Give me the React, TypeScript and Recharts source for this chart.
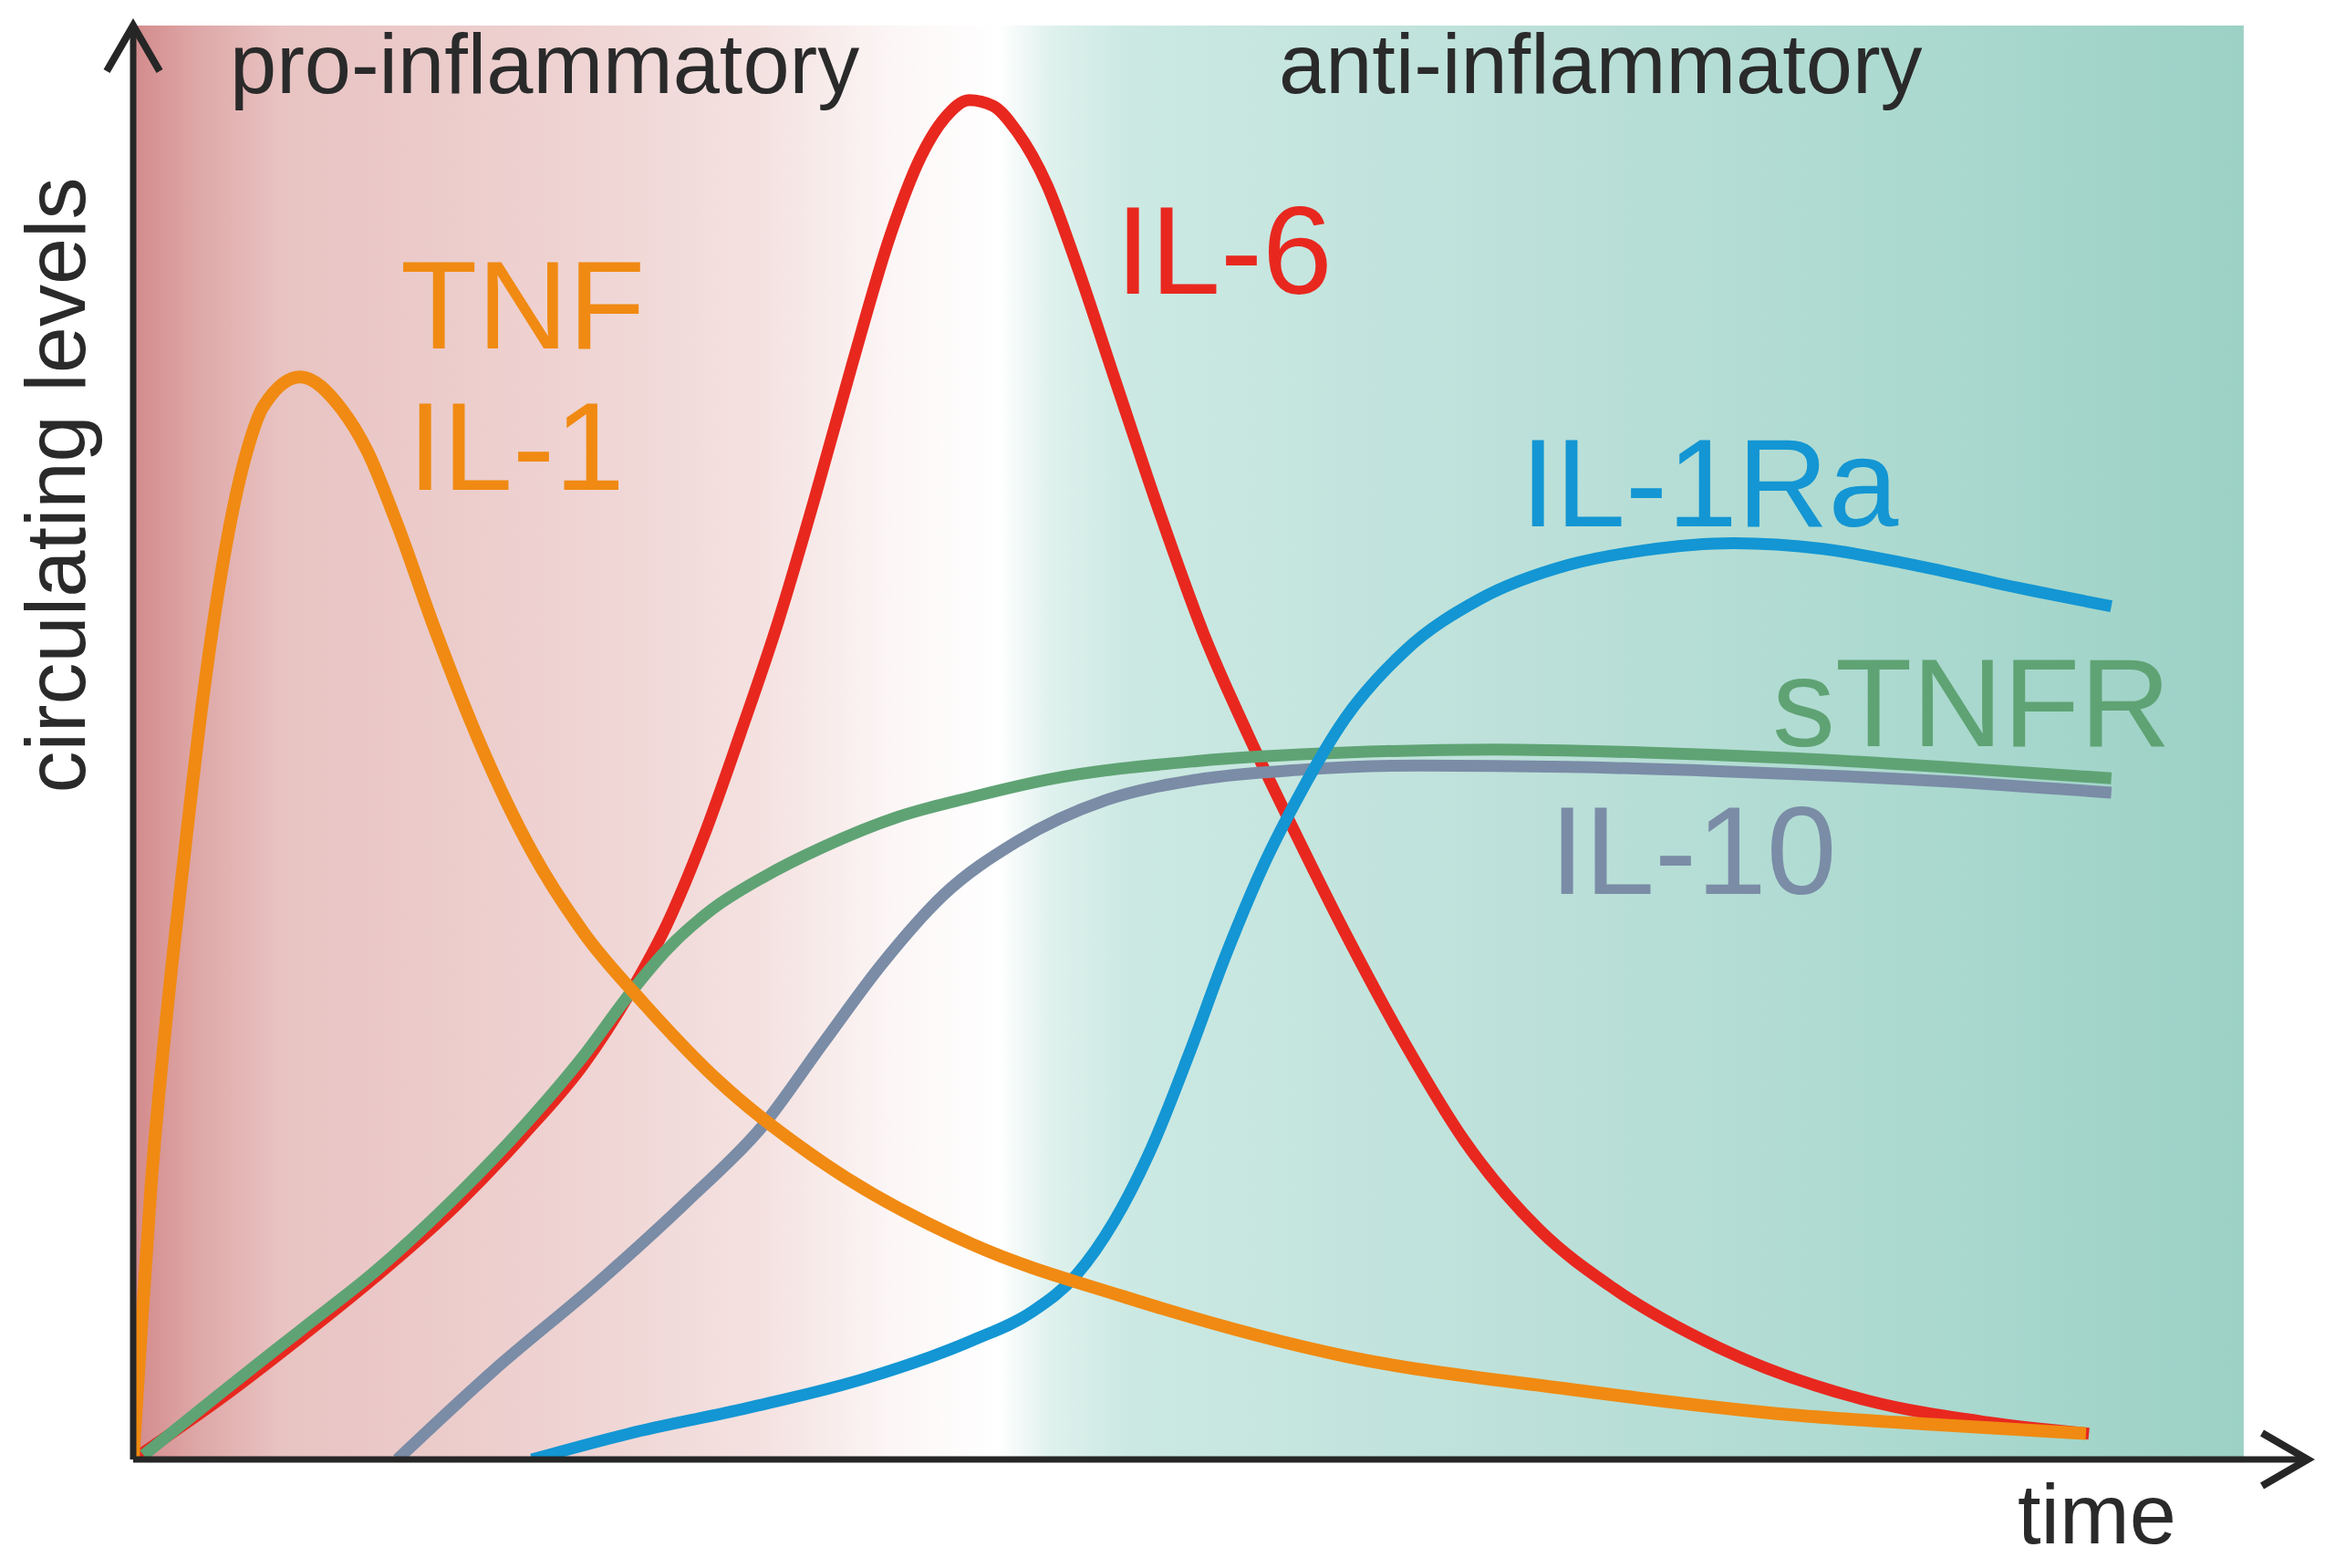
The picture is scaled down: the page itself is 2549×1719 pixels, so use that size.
import { ComposedChart, Line, XAxis, YAxis, ReferenceArea } from "recharts";

// time axis runs 0..102 (arrow tip), levels 0..100 (top of shaded panel)
const tnfIl1 = [
  { t: 0, v: 0 }, { t: 0.35, v: 8.3 }, { t: 0.84, v: 19.1 }, { t: 1.54, v: 30.5 },
  { t: 2.38, v: 41.9 }, { t: 3.29, v: 53.3 }, { t: 4.34, v: 63.6 }, { t: 5.39, v: 70.6 },
  { t: 6.09, v: 73.4 }, { t: 7.84, v: 75.5 }, { t: 9.8, v: 73.2 },
  { t: 10.99, v: 70.3 }, { t: 12.39, v: 65.2 }, { t: 14.15, v: 57.9 },
  { t: 16.25, v: 50.0 }, { t: 18.7, v: 42.4 }, { t: 21.15, v: 36.7 }, { t: 23.95, v: 31.8 },
  { t: 27.45, v: 26.4 }, { t: 32.35, v: 20.7 }, { t: 39.36, v: 15.0 }, { t: 46.36, v: 11.4 },
  { t: 56.86, v: 7.2 }, { t: 67.37, v: 4.9 }, { t: 77.87, v: 3.1 }, { t: 84.87, v: 2.4 },
  { t: 91.6, v: 1.8 },
];

const il6 = [
  { t: 0, v: 0 }, { t: 4.34, v: 4.5 }, { t: 7.84, v: 8.5 }, { t: 11.34, v: 12.7 },
  { t: 14.85, v: 17.3 }, { t: 18.35, v: 22.7 }, { t: 21.15, v: 27.6 }, { t: 23.25, v: 32.4 },
  { t: 25.0, v: 37.2 }, { t: 26.75, v: 43.4 }, { t: 28.5, v: 50.7 }, { t: 30.25, v: 58.4 },
  { t: 32.0, v: 67.2 }, { t: 33.75, v: 76.5 }, { t: 35.5, v: 85.3 }, { t: 36.9, v: 90.7 },
  { t: 38.1, v: 93.6 }, { t: 39.22, v: 94.8 }, { t: 40.34, v: 94.4 }, { t: 41.46, v: 92.6 },
  { t: 42.86, v: 88.9 }, { t: 44.26, v: 83.3 }, { t: 46.01, v: 75.5 }, { t: 48.11, v: 66.2 },
  { t: 50.21, v: 57.6 }, { t: 52.31, v: 50.5 }, { t: 54.41, v: 44.0 }, { t: 56.86, v: 36.7 },
  { t: 59.66, v: 29.0 }, { t: 62.46, v: 22.2 }, { t: 65.97, v: 16.0 }, { t: 69.47, v: 11.9 },
  { t: 74.37, v: 7.8 }, { t: 81.37, v: 4.1 }, { t: 86.97, v: 2.6 }, { t: 91.74, v: 1.8 },
];

const stnfr = [
  { t: 0.49, v: 0.3 }, { t: 4.34, v: 4.9 }, { t: 7.84, v: 9.0 }, { t: 11.34, v: 13.1 },
  { t: 14.85, v: 17.9 }, { t: 18.35, v: 23.3 }, { t: 21.15, v: 28.2 }, { t: 23.25, v: 32.4 },
  { t: 25.0, v: 35.5 }, { t: 27.1, v: 38.3 }, { t: 29.55, v: 40.6 }, { t: 32.35, v: 42.7 },
  { t: 35.85, v: 44.8 }, { t: 39.36, v: 46.2 }, { t: 42.86, v: 47.4 }, { t: 49.86, v: 48.7 },
  { t: 56.86, v: 49.3 }, { t: 63.87, v: 49.5 }, { t: 70.87, v: 49.3 }, { t: 77.87, v: 48.9 },
  { t: 84.87, v: 48.3 }, { t: 92.79, v: 47.5 },
];

const il10 = [
  { t: 12.39, v: 0 }, { t: 16.9, v: 6.2 }, { t: 21.85, v: 12.4 }, { t: 26.05, v: 18.1 },
  { t: 29.55, v: 23.3 }, { t: 32.35, v: 29.0 }, { t: 35.15, v: 34.6 }, { t: 37.96, v: 39.3 },
  { t: 41.46, v: 43.1 }, { t: 45.66, v: 46.0 }, { t: 49.86, v: 47.4 }, { t: 54.76, v: 48.1 },
  { t: 60.36, v: 48.4 }, { t: 67.37, v: 48.3 }, { t: 74.37, v: 48.0 }, { t: 84.87, v: 47.3 },
  { t: 92.79, v: 46.5 },
];

const il1ra = [
  { t: 18.7, v: 0 }, { t: 23.25, v: 1.8 }, { t: 28.85, v: 3.6 }, { t: 34.45, v: 5.7 },
  { t: 39.36, v: 8.3 }, { t: 42.16, v: 10.3 }, { t: 44.26, v: 12.9 }, { t: 46.01, v: 16.6 },
  { t: 47.76, v: 21.7 }, { t: 49.51, v: 28.2 }, { t: 51.26, v: 35.2 }, { t: 53.01, v: 41.4 },
  { t: 54.76, v: 46.5 }, { t: 56.86, v: 51.7 }, { t: 59.66, v: 56.4 }, { t: 63.17, v: 60.0 },
  { t: 67.37, v: 62.4 }, { t: 70.87, v: 63.4 }, { t: 75.07, v: 63.9 }, { t: 79.27, v: 63.5 },
  { t: 83.47, v: 62.4 }, { t: 88.38, v: 60.8 }, { t: 92.79, v: 59.5 },
];

const phaseLabels = ["pro-inflammatory", "anti-inflammatory"];
const axisLabels = { y: "circulating levels", x: "time" };

const FONT = "'Liberation Sans', Arial, Helvetica, sans-serif";
const AXIS = "#262626";

const C = {
  tnf: "#f08a12",
  il6: "#e8281f",
  stnfr: "#5fa374",
  il10: "#7a8ca6",
  il1ra: "#1396d3",
};

// label layout, in page pixels
const seriesLabels = [
  { text: "TNF", x: 439, y: 382, color: C.tnf },
  { text: "IL-1", x: 447, y: 537, color: C.tnf },
  { text: "IL-6", x: 1223, y: 322, color: C.il6 },
  { text: "IL-1Ra", x: 1667, y: 577, color: C.il1ra },
  { text: "sTNFR", x: 1943, y: 818, color: C.stnfr },
  { text: "IL-10", x: 1699, y: 980, color: C.il10 },
];

const W = 2549;
const H = 1719;

export default function App() {
  const lineProps = {
    dataKey: "v",
    type: "monotone" as const,
    dot: false,
    activeDot: false,
    strokeWidth: 13,
    isAnimationActive: false,
  };

  return (
    <div style={{ position: "fixed", left: 0, top: 0, width: W, height: H, background: "#fff" }}>
      <ComposedChart width={W} height={H} margin={{ top: 28, right: 19, bottom: 118, left: 145 }}>
        <defs>
          <linearGradient id="bg" x1="0" y1="0" x2="1" y2="0">
            <stop offset="0%" stopColor="#d38a8b" />
            <stop offset="3%" stopColor="#dea7a7" />
            <stop offset="7%" stopColor="#e8c3c2" />
            <stop offset="20%" stopColor="#eed2d1" />
            <stop offset="30%" stopColor="#f4e2e1" />
            <stop offset="36%" stopColor="#fcf6f6" />
            <stop offset="41%" stopColor="#ffffff" />
            <stop offset="43.5%" stopColor="#dff1ed" />
            <stop offset="47%" stopColor="#cce9e3" />
            <stop offset="65%" stopColor="#bde1da" />
            <stop offset="85%" stopColor="#abd9cf" />
            <stop offset="100%" stopColor="#9cd1c5" />
          </linearGradient>
          <marker id="arrowX" markerUnits="userSpaceOnUse" markerWidth="90" markerHeight="90"
            refX="62" refY="45" orient="0">
            <path d="M 12 16 L 62 45 L 12 74" fill="none" stroke={AXIS} strokeWidth="8" />
          </marker>
          <marker id="arrowY" markerUnits="userSpaceOnUse" markerWidth="90" markerHeight="90"
            refX="45" refY="12" orient="0">
            <path d="M 16 62 L 45 12 L 74 62" fill="none" stroke={AXIS} strokeWidth="8" />
          </marker>
        </defs>

        <ReferenceArea x1={0} x2={99} y1={0} y2={100} fill="url(#bg)" fillOpacity={1} stroke="none" />

        <XAxis
          type="number"
          dataKey="t"
          domain={[0, 102]}
          allowDataOverflow
          tick={false}
          tickLine={false}
          height={1}
          axisLine={{ stroke: AXIS, strokeWidth: 7, markerEnd: "url(#arrowX)" }}
        />
        <YAxis
          type="number"
          domain={[0, 100]}
          allowDataOverflow
          tick={false}
          tickLine={false}
          width={1}
          axisLine={{ stroke: AXIS, strokeWidth: 7, markerStart: "url(#arrowY)" }}
        />

        <Line {...lineProps} data={il6} stroke={C.il6} />
        <Line {...lineProps} data={stnfr} stroke={C.stnfr} />
        <Line {...lineProps} data={il10} stroke={C.il10} />
        <Line {...lineProps} data={il1ra} stroke={C.il1ra} />
        <Line {...lineProps} data={tnfIl1} stroke={C.tnf} strokeWidth={14} />
      </ComposedChart>

      {/* text overlay */}
      <svg width={W} height={H} style={{ position: "absolute", left: 0, top: 0, pointerEvents: "none" }}>
        <text x={252} y={102} fontFamily={FONT} fontSize={92} fill="#2a2a2a">{phaseLabels[0]}</text>
        <text x={1402} y={102} fontFamily={FONT} fontSize={92} fill="#2a2a2a">{phaseLabels[1]}</text>
        <text transform="translate(93, 532) rotate(-90)" textAnchor="middle" fontFamily={FONT} fontSize={92} fill="#2a2a2a">
          {axisLabels.y}
        </text>
        <text x={2212} y={1692} fontFamily={FONT} fontSize={92} fill="#2a2a2a">{axisLabels.x}</text>
        {seriesLabels.map((l) => (
          <text key={l.text} x={l.x} y={l.y} fontFamily={FONT} fontSize={138} fill={l.color}>
            {l.text}
          </text>
        ))}
      </svg>
    </div>
  );
}
